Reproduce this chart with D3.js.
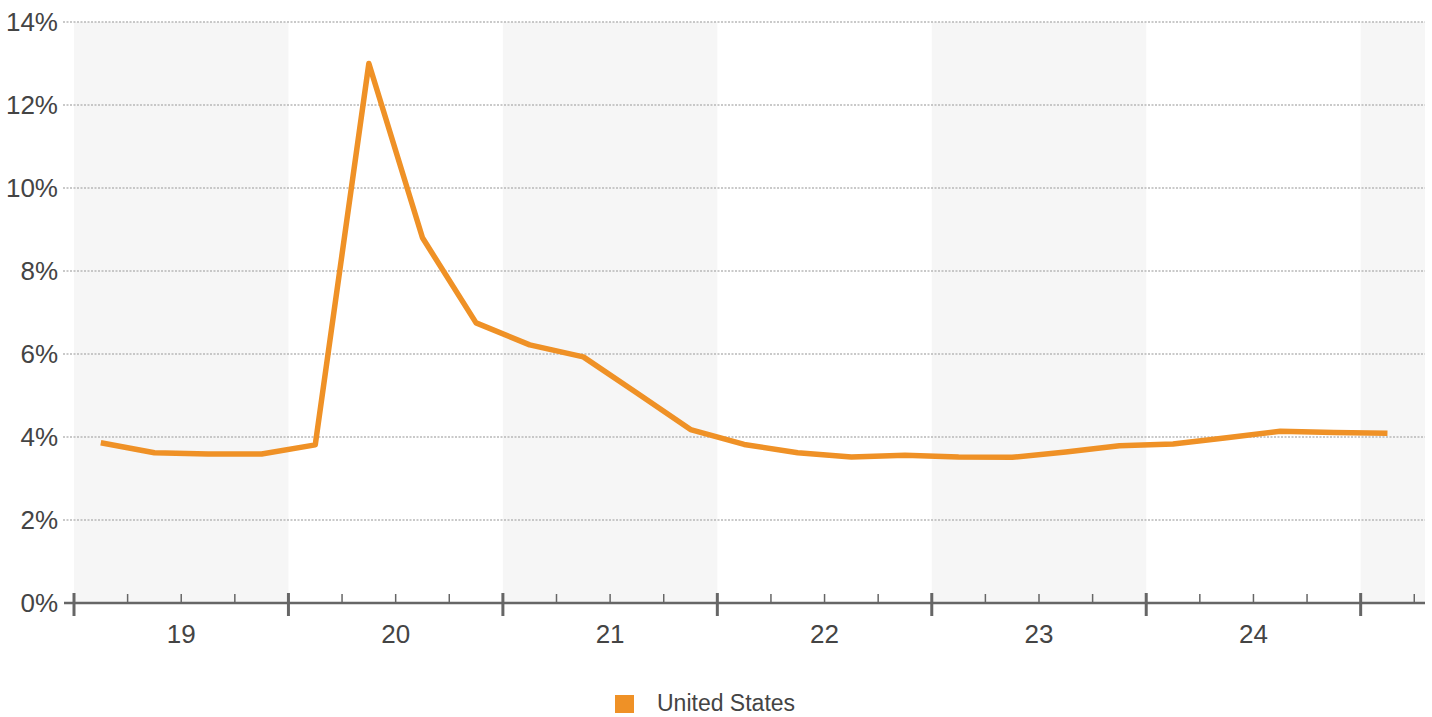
<!DOCTYPE html>
<html>
<head>
<meta charset="utf-8">
<script src="https://cdn.jsdelivr.net/npm/d3@7"></script>
<style>
  html, body { margin: 0; padding: 0; background: #fff; }
  svg { display: block; font-family: "Liberation Sans", Arial, sans-serif; }
</style>
</head>
<body>
<svg id="chart" width="1432" height="717"></svg>
<script>
// Quarterly unemployment rate, United States (Q1 2019 – Q1 2025)
const quarters = [
  "2019Q1","2019Q2","2019Q3","2019Q4",
  "2020Q1","2020Q2","2020Q3","2020Q4",
  "2021Q1","2021Q2","2021Q3","2021Q4",
  "2022Q1","2022Q2","2022Q3","2022Q4",
  "2023Q1","2023Q2","2023Q3","2023Q4",
  "2024Q1","2024Q2","2024Q3","2024Q4",
  "2025Q1"
];
const unitedStates = [
  3.86, 3.62, 3.59, 3.59,
  3.81, 13.0, 8.8, 6.75,
  6.22, 5.93, 5.06, 4.18,
  3.82, 3.62, 3.52, 3.56,
  3.52, 3.51, 3.64, 3.79,
  3.83, 3.98, 4.14, 4.11,
  4.09
];
const yearLabels = ["19", "20", "21", "22", "23", "24"];
const yTicks = [0, 2, 4, 6, 8, 10, 12, 14];
const seriesName = "United States";

const svg = d3.select("#chart");
const plotLeft = 74, plotRight = 1425, plotTop = 22, plotBottom = 603;

// x: quarter index from the start of 2019
const x = d3.scaleLinear().domain([0, 25.2]).range([plotLeft, plotRight]);
const y = d3.scaleLinear().domain([0, 14]).range([plotBottom, plotTop]);

// alternating year bands
const bandYears = [0, 2, 4, 6];
svg.append("g").selectAll("rect").data(bandYears).join("rect")
  .attr("x", d => x(d * 4))
  .attr("y", plotTop)
  .attr("width", d => Math.min(x(d * 4 + 4), plotRight) - x(d * 4))
  .attr("height", plotBottom - plotTop)
  .attr("fill", "#f6f6f6");

// horizontal dotted gridlines
svg.append("g").selectAll("line").data(yTicks.filter(d => d > 0)).join("line")
  .attr("x1", 63).attr("x2", plotRight)
  .attr("y1", d => y(d)).attr("y2", d => y(d))
  .attr("stroke", "#b8b8b8")
  .attr("stroke-width", 1.3)
  .attr("stroke-dasharray", "2,1.5");

// y labels
svg.append("g").selectAll("text").data(yTicks).join("text")
  .attr("x", 58)
  .attr("y", d => y(d))
  .attr("dy", "0.36em")
  .attr("text-anchor", "end")
  .attr("font-size", 26)
  .attr("fill", "#444")
  .text(d => d + "%");

// x axis baseline
const axisG = svg.append("g");
axisG.append("line")
  .attr("x1", 64).attr("x2", plotRight)
  .attr("y1", plotBottom).attr("y2", plotBottom)
  .attr("stroke", "#666").attr("stroke-width", 2.5);

// quarter ticks
const qTicks = d3.range(0, 26);
axisG.selectAll("line.tick").data(qTicks).join("line")
  .attr("class", "tick")
  .attr("x1", d => x(d)).attr("x2", d => x(d))
  .attr("y1", d => d % 4 === 0 ? 593 : 594)
  .attr("y2", d => d % 4 === 0 ? 616 : plotBottom)
  .attr("stroke", "#666")
  .attr("stroke-width", d => d % 4 === 0 ? 3 : 1.5);

// year labels
axisG.selectAll("text").data(yearLabels).join("text")
  .attr("x", (d, i) => x(i * 4 + 2))
  .attr("y", 643)
  .attr("text-anchor", "middle")
  .attr("font-size", 26)
  .attr("fill", "#444")
  .text(d => d);

// series line
const line = d3.line()
  .x((d, i) => x(i + 0.5))
  .y(d => y(d));
svg.append("path")
  .datum(unitedStates)
  .attr("d", line)
  .attr("fill", "none")
  .attr("stroke", "#ef9126")
  .attr("stroke-width", 5.5)
  .attr("stroke-linejoin", "round");

// legend
const legend = svg.append("g");
legend.append("rect")
  .attr("x", 615).attr("y", 695)
  .attr("width", 19).attr("height", 18)
  .attr("fill", "#ef9126");
legend.append("text")
  .attr("x", 657).attr("y", 711)
  .attr("font-size", 23)
  .attr("fill", "#444")
  .text(seriesName);
</script>
</body>
</html>
